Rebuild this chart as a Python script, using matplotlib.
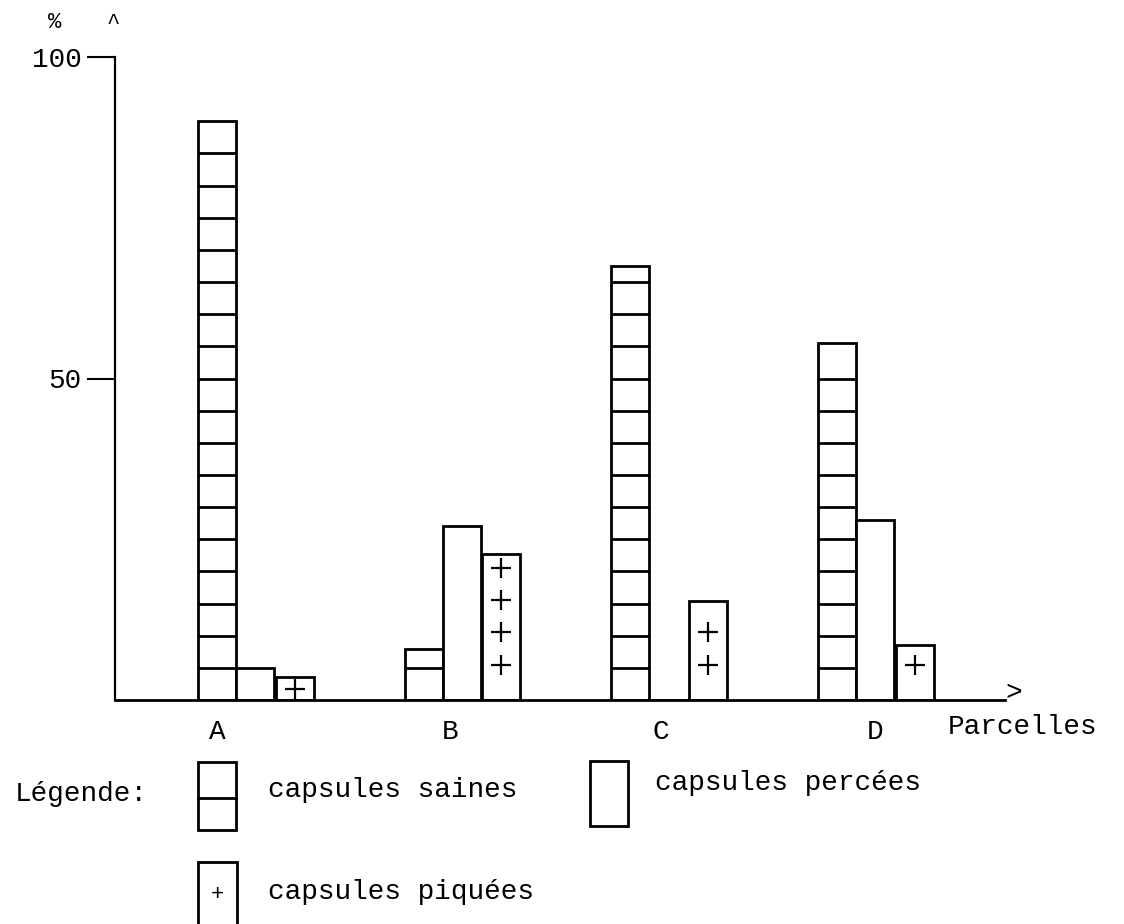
import matplotlib.pyplot as plt
from matplotlib.patches import Rectangle
import numpy as np

# data (percent of capsules per plot)
parcelles = ["A", "B", "C", "D"]
saines = [90, 8, 67.5, 55.5]
percees = [5, 27, 0, 28]
piquees = [3.5, 22.7, 15.4, 8.5]

yticks = [50, 100]

W, H = 1124, 924
plt.rcParams['font.family'] = ['Liberation Mono', 'DejaVu Sans Mono']
fs = 20

fig = plt.figure(figsize=(W / 100, H / 100), dpi=100)


def px(x, y):
    # pixel coords (from top-left) -> figure fraction
    return x / W, 1 - y / H


# axes: y axis at x=115, 0 at y=700, 100 at y=57, x axis ends at x=1005
ax = fig.add_axes([115 / W, (H - 700) / H, 890 / W, (700 - 57) / H])
bw = 1.0                    # one bar = 38 px
ax.set_xlim(0, 890 / 38)
ax.set_ylim(0, 100)

x0 = 2.18 + np.arange(len(parcelles)) * 5.44
lw = 2

ax.bar(x0, saines, width=bw, align='edge', color='white', edgecolor='black', linewidth=lw)
ax.bar(x0 + bw, percees, width=bw, align='edge', color='white', edgecolor='black', linewidth=lw)
ax.bar(x0 + 2.05 * bw, piquees, width=bw, align='edge', color='white', edgecolor='black', linewidth=lw)

# cross lines every 5% in the "saines" bars
for xs, v in zip(x0, saines):
    levels = np.arange(5, v - 1, 5)
    ax.hlines(levels, xs, xs + bw, color='black', linewidth=lw)

# plus signs in the "piquees" bars
for xs, v in zip(x0, piquees):
    ys = np.arange(5.5, v - 1, 5)
    if len(ys) == 0:
        ys = [v / 2]
    ax.plot([xs + 2.05 * bw + 0.5 * bw] * len(ys), ys, linestyle='none', marker='+',
            markersize=14, markeredgewidth=1.6, color='black')

for s in ['top', 'right']:
    ax.spines[s].set_visible(False)
ax.spines['left'].set_linewidth(1.6)
ax.spines['bottom'].set_linewidth(2)

ax.set_yticks(yticks)
ax.set_yticklabels([str(t) for t in yticks], fontsize=fs)
ax.tick_params(axis='y', length=20, width=1.5, pad=4)

ax.set_xticks(x0 + np.array([0.5, 1.2, 1.3, 1.5]))
ax.set_xticklabels(parcelles, fontsize=fs)
ax.tick_params(axis='x', length=0, pad=14)

# axis decorations
fig.text(*px(1014, 693), ">", fontsize=fs, ha='center', va='center')
fig.text(*px(948, 727), "Parcelles", fontsize=fs, ha='left', va='center')
fig.text(*px(55, 22), "%", fontsize=16, ha='center', va='center')
fig.text(*px(113, 24), "^", fontsize=16, ha='center', va='center')

# legend, drawn by hand like the original
def box(x, y, w, h):
    fx, fy = px(x, y + h)
    fig.add_artist(Rectangle((fx, fy), w / W, h / H, transform=fig.transFigure,
                             facecolor='white', edgecolor='black', linewidth=lw))

fig.text(*px(15, 794), "Légende:", fontsize=fs, ha='left', va='center')
box(198, 762, 38, 68)
fig.add_artist(plt.Line2D([198 / W, 236 / W], [1 - 798 / H] * 2, transform=fig.transFigure,
                          color='black', linewidth=lw))
fig.text(*px(268, 790), "capsules saines", fontsize=fs, ha='left', va='center')

box(590, 761, 38, 65)
fig.text(*px(655, 783), "capsules percées", fontsize=fs, ha='left', va='center')

box(198, 862, 39, 70)
fig.text(*px(217, 895), "+", fontsize=16, ha='center', va='center')
fig.text(*px(268, 892), "capsules piquées", fontsize=fs, ha='left', va='center')

fig.savefig("out.png", dpi=100)
